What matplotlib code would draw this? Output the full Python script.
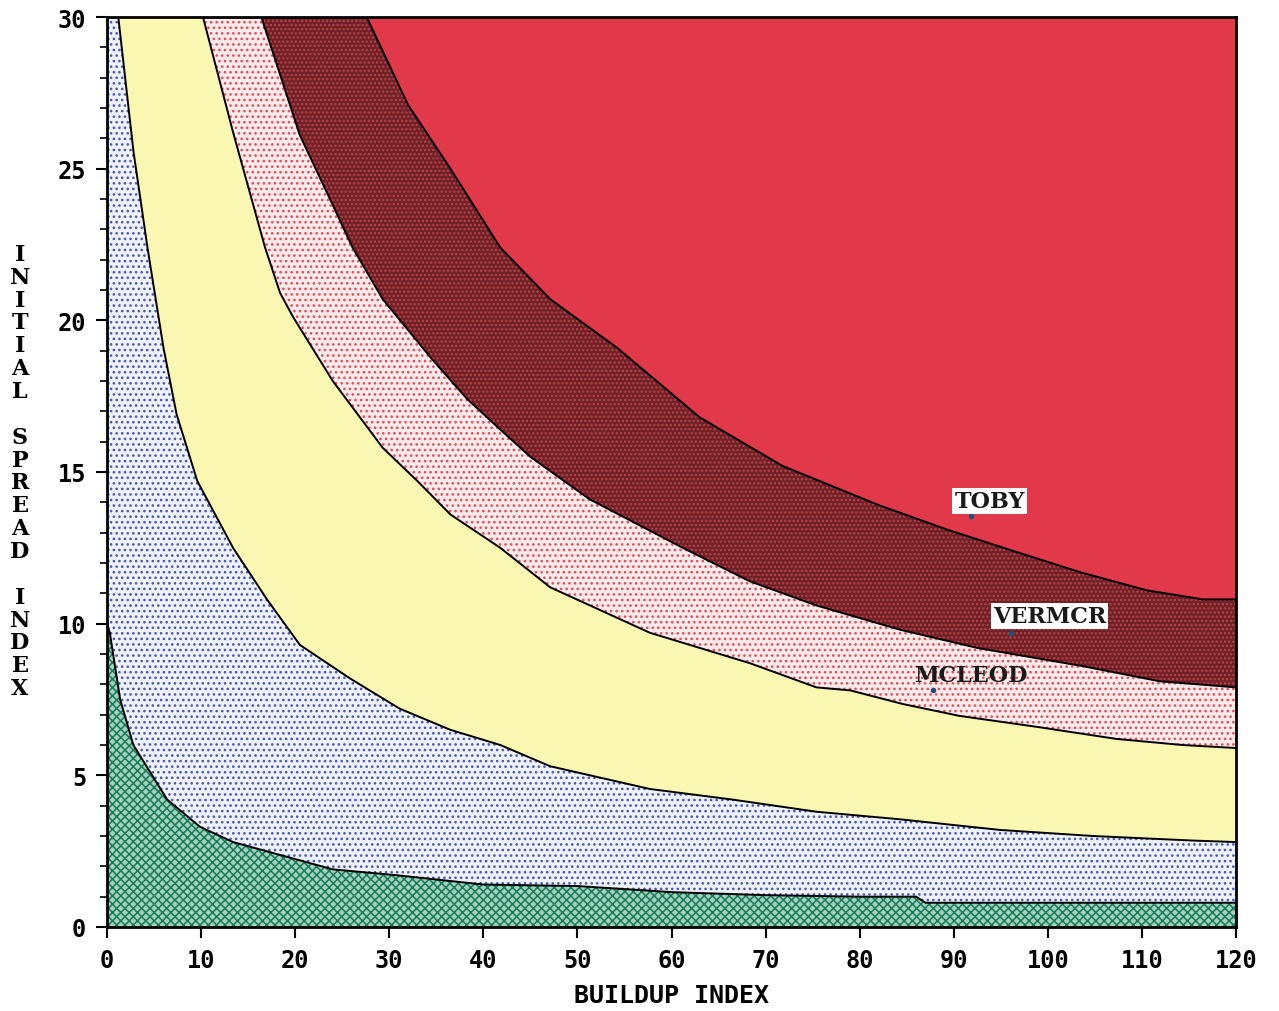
import matplotlib
matplotlib.use('Agg')
import matplotlib.pyplot as plt
from matplotlib.ticker import MultipleLocator

# zone boundaries: buildup index (x) -> initial spread index (y)
# bottom to top: green/blue, blue/yellow, yellow/pink, pink/brown, brown/red
green_top_x = [0, 0.3, 1.4, 2.8, 4.6, 6.4, 9.9, 13.4, 18.7, 24, 31, 40, 50, 60, 70, 80, 86, 87, 100, 120]
green_top_y = [10, 9.7, 7.5, 6.0, 5.1, 4.2, 3.3, 2.8, 2.35, 1.9, 1.7, 1.4, 1.35, 1.15, 1.05, 1.0, 1.0, 0.8, 0.8, 0.8]

blue_top_x = [1.2, 2.8, 4.3, 6.0, 7.4, 9.6, 13.4, 17.0, 20.5, 25.8, 31.1, 36.5, 41.8, 47.1, 57.7, 66.5, 75.4, 84.3, 94.9, 104.8, 115.4, 120]
blue_top_y = [30, 25.6, 22.4, 19.1, 16.9, 14.7, 12.5, 10.8, 9.3, 8.2, 7.2, 6.5, 6.0, 5.3, 4.55, 4.2, 3.8, 3.55, 3.2, 3.0, 2.85, 2.8]

yellow_top_x = [10.2, 13.4, 16.8, 18.4, 19.8, 24.0, 29.3, 33.0, 36.5, 41.8, 47.1, 57.7, 68.3, 75.4, 79.0, 84.6, 90.6, 98.8, 107.3, 114.3, 120]
yellow_top_y = [30, 26.2, 22.4, 20.9, 20.1, 18.0, 15.8, 14.7, 13.6, 12.5, 11.2, 9.7, 8.7, 7.9, 7.8, 7.35, 6.96, 6.6, 6.2, 6.0, 5.9]

pink_top_x = [16.4, 20.5, 24.0, 26.1, 29.3, 34.6, 38.3, 41.8, 45.0, 51.3, 61.2, 68.3, 75.4, 84.3, 92.5, 103.7, 111.9, 120]
pink_top_y = [30, 26.1, 23.8, 22.4, 20.7, 18.7, 17.4, 16.4, 15.5, 14.1, 12.5, 11.4, 10.6, 9.8, 9.2, 8.6, 8.1, 7.9]

brown_top_x = [27.6, 32.0, 36.5, 41.8, 47.1, 54.2, 63.0, 71.8, 82.1, 89.3, 96.3, 103.4, 110.5, 116.5, 120]
brown_top_y = [30, 27.1, 25.0, 22.4, 20.7, 19.1, 16.8, 15.2, 13.9, 13.1, 12.4, 11.7, 11.1, 10.8, 10.8]

# labelled stations
station_names = ['TOBY', 'VERMCR', 'MCLEOD']
station_bui = [91.8, 96.1, 87.8]
station_isi = [13.55, 9.7, 7.8]

x_ticks = list(range(0, 121, 10))
y_ticks = [0, 5, 10, 15, 20, 25, 30]


def band(lo_x, lo_y, hi_x, hi_y):
    # polygon: lower edge left->right, upper edge right->left
    return list(lo_x) + list(hi_x)[::-1], list(lo_y) + list(hi_y)[::-1]


fig = plt.figure(figsize=(12.79, 10.12), dpi=100)
ax = fig.add_axes([107 / 1279, 84 / 1012, 1129 / 1279, 910 / 1012])
plt.rcParams['hatch.linewidth'] = 1.1

zones = [
    (band([0, 120], [0, 0], green_top_x, green_top_y), '#a2d2bf', '#1a7a58', 'xxxx'),
    (band(green_top_x, green_top_y, [0] + blue_top_x, [30] + blue_top_y), '#f0f2fb', '#4a5ab8', '...'),
    (band(blue_top_x, blue_top_y, yellow_top_x, yellow_top_y), '#f9f7b2', '#f0ec90', None),
    (band(yellow_top_x, yellow_top_y, pink_top_x, pink_top_y), '#fbeaea', '#e0505c', '...'),
    (band(pink_top_x, pink_top_y, brown_top_x, brown_top_y), '#6e2228', '#c04048', '....'),
    (band(brown_top_x, brown_top_y, [brown_top_x[0], 120], [30, 30]), '#e2394a', '#e2394a', None),
]
for (xs, ys), fc, hc, hatch in zones:
    ax.fill(xs, ys, facecolor=fc, edgecolor=hc, hatch=hatch, linewidth=0, zorder=1)

for bx, by in [(green_top_x, green_top_y), (blue_top_x, blue_top_y), (yellow_top_x, yellow_top_y),
               (pink_top_x, pink_top_y), (brown_top_x, brown_top_y)]:
    ax.plot(bx, by, color='black', linewidth=1.4, zorder=3)

label_dx = [2.0, 4.1, 4.0]
label_dy = [0.13, 0.2, 0.15]
for name, bx, by, dx, dy in zip(station_names, station_bui, station_isi, label_dx, label_dy):
    ax.plot(bx, by, 'o', color='#1d4f7a', markersize=3, zorder=4)
    box = dict(facecolor='white', edgecolor='none', pad=1.5) if name != 'MCLEOD' else None
    ax.text(bx + dx, by + dy, name, ha='center', va='bottom', fontsize=16, fontweight='bold',
            family='DejaVu Serif', color='#1a1a1a', bbox=box, zorder=5)

ax.set_xlim(0, 120)
ax.set_ylim(0, 30)
ax.set_xticks(x_ticks)
ax.set_yticks(y_ticks)
ax.yaxis.set_minor_locator(MultipleLocator(1))
ax.tick_params(axis='both', which='major', direction='out', length=8, width=1.5, pad=7, labelsize=17)
ax.tick_params(axis='y', which='minor', direction='out', length=5, width=1.2)
for lab in ax.get_xticklabels() + ax.get_yticklabels():
    lab.set_family('DejaVu Sans Mono')
    lab.set_fontweight('bold')
for sp in ax.spines.values():
    sp.set_linewidth(2)

ax.set_xlabel('BUILDUP INDEX', fontsize=18, fontweight='bold', family='DejaVu Sans Mono', labelpad=8)
fig.text(20 / 1279, 1 - 472 / 1012, '\n'.join('INITIAL SPREAD INDEX'), ha='center', va='center',
         fontsize=16, fontweight='bold', family='DejaVu Serif', linespacing=1.05)

fig.savefig('out.png', dpi=100)
